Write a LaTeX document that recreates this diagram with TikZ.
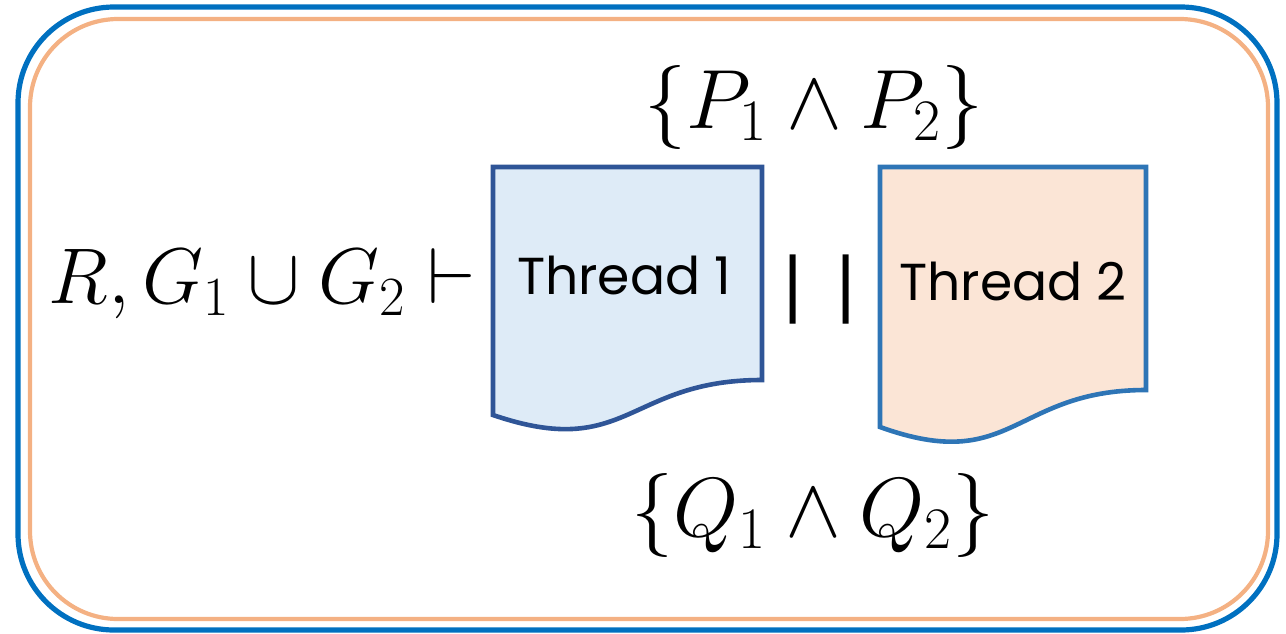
\documentclass[tikz,border=0pt]{standalone}
\usepackage{fix-cm}
\usepackage{fontspec}
\usepackage{amsmath}
\usetikzlibrary{positioning}
\newfontfamily\threadfont{Poppins}
\newfontfamily\barfont{Liberation Sans}
\definecolor{outerblue}{HTML}{0070C0}
\definecolor{innerorange}{HTML}{F4B183}
\definecolor{tonefill}{HTML}{DEEBF7}
\definecolor{toneline}{HTML}{2F5597}
\definecolor{ttwofill}{HTML}{FBE5D6}
\definecolor{ttwoline}{HTML}{2E75B6}

\begin{document}
\begin{tikzpicture}[
  x=0.5pt, y=-0.5pt,
  frame/.style={draw=#1, rounded corners=48pt},
  doc/.style={line width=2.3pt, line join=miter},
  thread/.style={font=\threadfont\fontsize{26}{30}\selectfont, inner sep=0pt},
  cond/.style={font=\fontsize{42}{48}\selectfont, inner sep=0pt},
]
\useasboundingbox (0,0) rectangle (1286,633);

% frames
\draw[frame=outerblue, line width=2.6pt] (18,7) rectangle (1277,630);
\draw[frame=innerorange, line width=2.1pt, rounded corners=44pt] (30,19) rectangle (1268,619);

% the two threads
\draw[doc, draw=toneline, fill=tonefill] (493,167) -- (762,167) -- (762,380)
  .. controls (627.5,380) and (627.5,461) .. (493,415) -- cycle;
\draw[doc, draw=ttwoline, fill=ttwofill] (880,167) -- (1146,167) -- (1146,390)
  .. controls (1013,390) and (1013,475) .. (880,427) -- cycle;

\node[thread] (t1) at (624,275) {Thread 1};
\node[thread] (t2) at (1013,281) {Thread 2};
\node[font=\barfont\fontsize{37}{40}\selectfont, inner sep=0pt] (par) at (820,290) {|\hspace{17pt}|};

% conditions
\node[cond] (pre) at (814,107) {$\{P_1 \wedge P_2\}$};
\node[cond] (post) at (813,515) {$\{Q_1 \wedge Q_2\}$};
\node[cond, font=\fontsize{39.5}{46}\selectfont, anchor=east] (env) at (476,284) {$R, G_1 \cup G_2 \vdash$};

\end{tikzpicture}
\end{document}
